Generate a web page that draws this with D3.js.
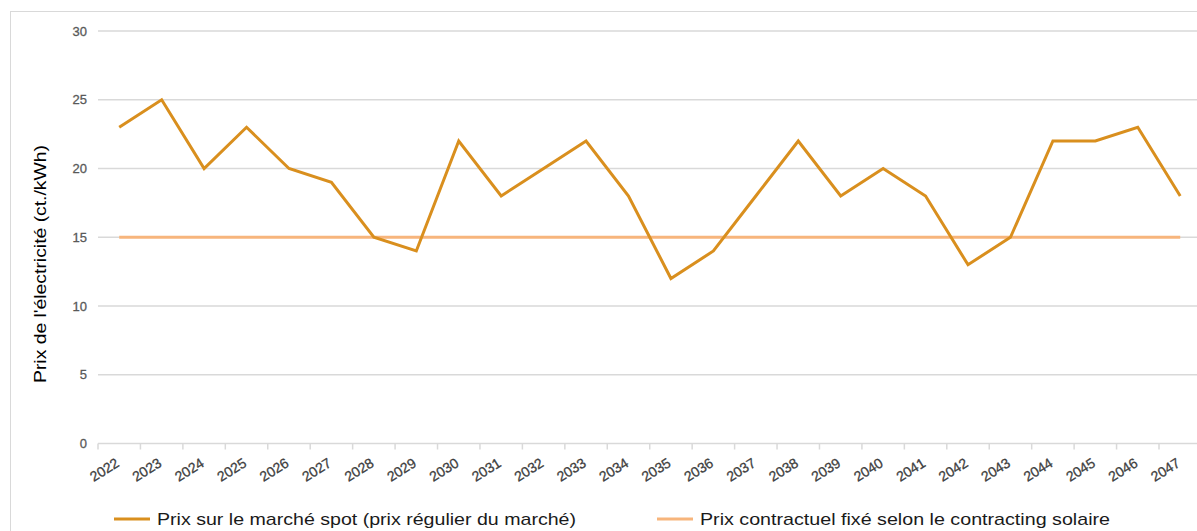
<!DOCTYPE html>
<html><head><meta charset="utf-8">
<script src="https://cdn.jsdelivr.net/npm/d3@7"></script>
<style>body{margin:0;background:#fff;overflow:hidden}svg{display:block}</style>
</head><body>
<svg id="c" width="1197" height="531"></svg>
<script>
const years = ["2022","2023","2024","2025","2026","2027","2028","2029","2030","2031","2032","2033","2034","2035","2036","2037","2038","2039","2040","2041","2042","2043","2044","2045","2046","2047"];
const spotPrices = [23,25,20,23,20,19,15,14,22,18,20,22,18,12,14,18,22,18,20,18,13,15,22,22,23,18];
const fixedPrices = [15,15,15,15,15,15,15,15,15,15,15,15,15,15,15,15,15,15,15,15,15,15,15,15,15,15];
const yTicks = [0,5,10,15,20,25,30];
const seriesNames = ["Prix sur le marché spot (prix régulier du marché)","Prix contractuel fixé selon le contracting solaire"];
const seriesColors = ["#D98F1E","#F7B57C"];
const yTitle = "Prix de l'électricité (ct./kWh)";

(function(){
const svg = d3.select("#c");
const font = "'Liberation Sans', Arial, sans-serif";
svg.append("rect").attr("x",10.5).attr("y",11.5).attr("width",1300).attr("height",600)
  .attr("fill","#fff").attr("stroke","#d9d9d9").attr("stroke-width",1);

const pLeft = 98, pTop = 31, pBottom = 443.5;
const band = 42.44;
const x = d3.scaleBand().domain(years).range([pLeft, pLeft + band*years.length]).paddingInner(0).paddingOuter(0);
const y = d3.scaleLinear().domain([0,30]).range([pBottom, pTop]);

svg.append("g").selectAll("line").data(yTicks.filter(d=>d>0)).join("line")
  .attr("x1",pLeft).attr("x2",1300).attr("y1",d=>y(d)).attr("y2",d=>y(d))
  .attr("stroke","#d9d9d9").attr("stroke-width",1.5);

const yAxis = d3.axisLeft(y).tickValues(yTicks).tickSize(0).tickPadding(11);
const gy = svg.append("g").attr("transform",`translate(${pLeft},0)`).call(yAxis);
gy.select(".domain").remove();
gy.selectAll("text").attr("font-family",font).attr("font-size",13).attr("fill","#595959")
  .attr("stroke","#595959").attr("stroke-width",0.3);

const xAxis = d3.axisBottom(x).tickSize(0);
const gx = svg.append("g").attr("transform",`translate(0,${pBottom})`).call(xAxis);
gx.select(".domain").attr("stroke","#d9d9d9").attr("stroke-width",1.5).attr("d",`M${pLeft},0H1300`);
gx.append("g").selectAll("line").data(d3.range(years.length+1)).join("line")
  .attr("x1",i=>pLeft+i*x.bandwidth()).attr("x2",i=>pLeft+i*x.bandwidth())
  .attr("y1",0).attr("y2",6).attr("stroke","#d9d9d9").attr("stroke-width",1.5);
gx.selectAll(".tick text")
  .attr("font-family",font).attr("font-size",14).attr("fill","#404040")
  .attr("stroke","#404040").attr("stroke-width",0.3)
  .attr("text-anchor","end").attr("dy",null).attr("y",null)
  .attr("transform","translate(1,22) rotate(-32)");

const cx = d => x(d) + x.bandwidth()/2;
const line = d3.line().x((d,i)=>cx(years[i])).y(d=>y(d));
svg.append("path").datum(fixedPrices).attr("d",line).attr("fill","none")
  .attr("stroke",seriesColors[1]).attr("stroke-width",3);
svg.append("path").datum(spotPrices).attr("d",line).attr("fill","none")
  .attr("stroke",seriesColors[0]).attr("stroke-width",3).attr("stroke-linejoin","miter");

svg.append("text").attr("transform","translate(46,264) rotate(-90)")
  .attr("text-anchor","middle").attr("font-family",font).attr("font-size",16)
  .attr("textLength",238).attr("lengthAdjust","spacingAndGlyphs")
  .attr("fill","#000").text(yTitle);

const legX = [114, 657];
const legLen = [419, 410];
const lg = svg.append("g").selectAll("g").data(seriesNames).join("g")
  .attr("transform",(d,i)=>`translate(${legX[i]},519)`);
lg.append("line").attr("x1",0).attr("x2",36).attr("stroke",(d,i)=>seriesColors[i]).attr("stroke-width",3);
lg.append("text").attr("x",43).attr("y",6).attr("font-family",font).attr("font-size",17)
  .attr("textLength",(d,i)=>legLen[i]).attr("lengthAdjust","spacingAndGlyphs")
  .attr("fill","#1a1a1a").text(d=>d);
})();
</script>
</body></html>
